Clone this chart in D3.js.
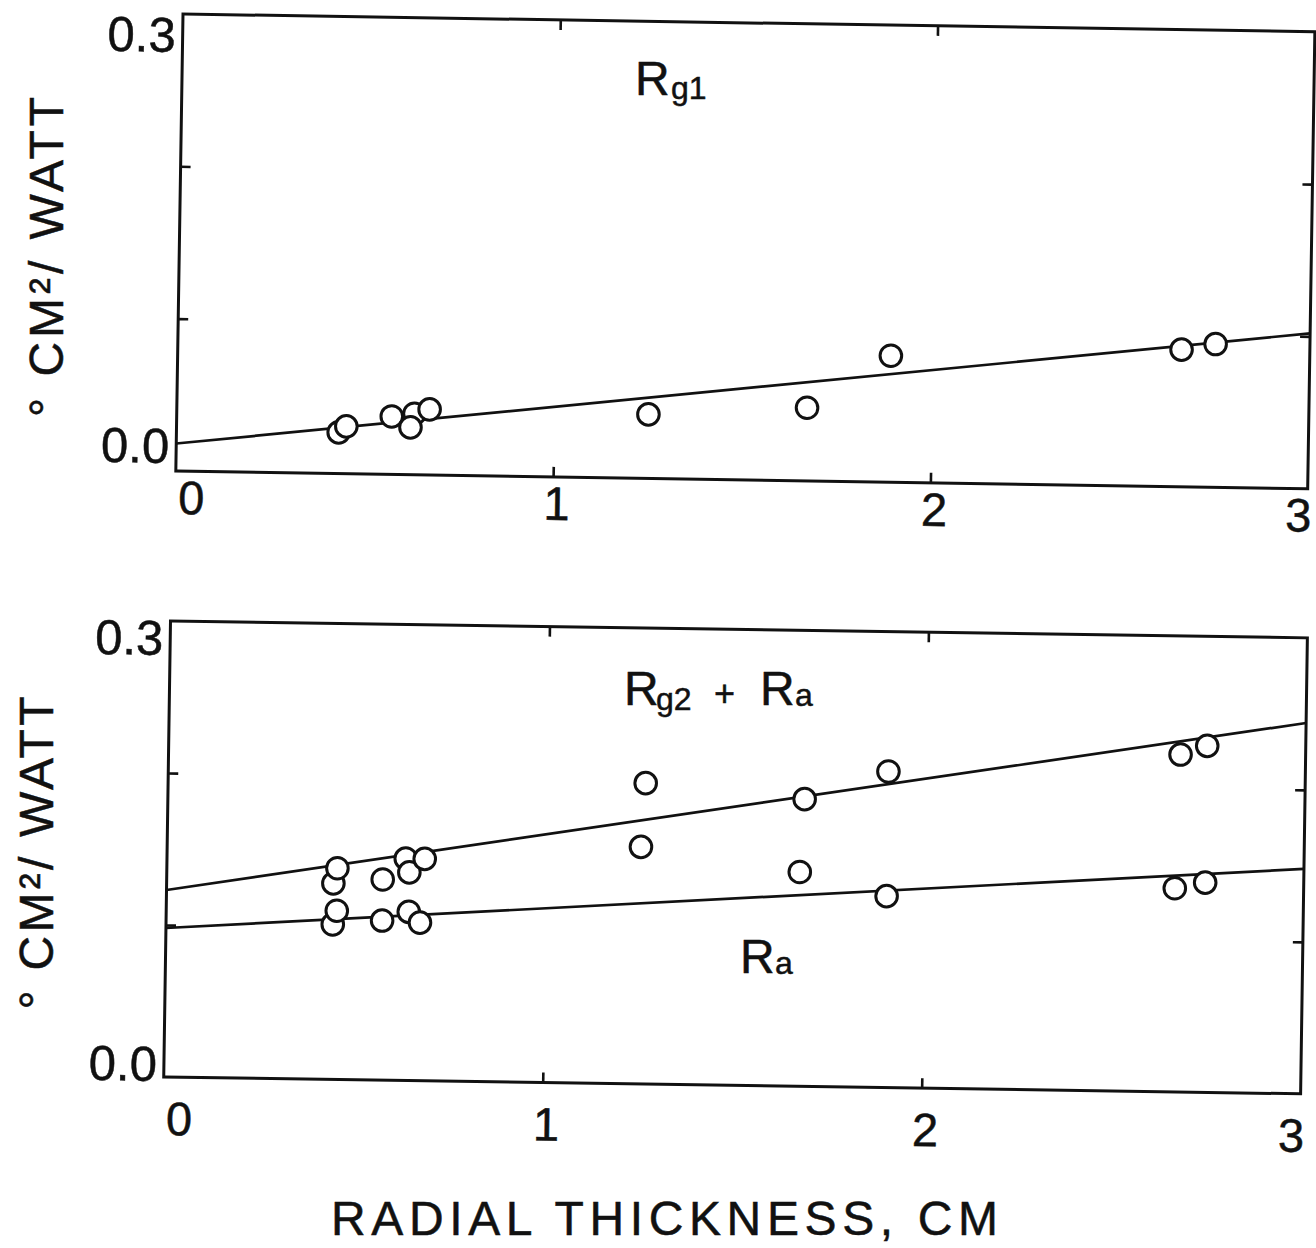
<!DOCTYPE html>
<html>
<head>
<meta charset="utf-8">
<script src="https://cdn.jsdelivr.net/npm/d3@7"></script>
<style>
  html, body { margin: 0; padding: 0; background: #fff; }
  svg { display: block; }
  text { font-family: "Liberation Sans", Arial, sans-serif; fill: #111; stroke: #111; stroke-width: 0.5px; }
</style>
</head>
<body>
<svg id="chart" width="1316" height="1248"></svg>
<script>
// Radial thickness (cm) and measured thermal resistances (°C·cm²/W)
const rg1Thickness = [0.43, 0.45, 0.57, 0.63, 0.62, 0.67, 1.25, 1.67, 1.89, 2.66, 2.75];
const rg1Values    = [0.027, 0.031, 0.038, 0.040, 0.031, 0.043, 0.042, 0.048, 0.083, 0.090, 0.094];

const rg2raThickness = [0.44, 0.45, 0.57, 0.63, 0.64, 0.68, 1.26, 1.68, 1.90, 2.67, 2.74];
const rg2raValues    = [0.129, 0.139, 0.132, 0.146, 0.137, 0.146, 0.198, 0.189, 0.208, 0.222, 0.228];

const raThickness = [0.44, 0.45, 0.57, 0.64, 0.67, 1.25, 1.67, 1.90, 2.66, 2.74];
const raValues    = [0.102, 0.111, 0.105, 0.111, 0.104, 0.156, 0.141, 0.126, 0.134, 0.138];

// Straight-line fits, evaluated at the ends of the thickness range
const fitEnds  = [0, 3];
const rg1Fit   = [0.018, 0.102];
const rg2raFit = [0.123, 0.244];
const raFit    = [0.098, 0.148];

// Axes
const xDomain = [0, 3];
const yDomain = [0, 0.3];
const xTicks = [0, 1, 2, 3];
const xTickLabels = ["0", "1", "2", "3"];
const xMinorTicks = [1, 2];
const yMinorTicks = [0.1, 0.2];
const yTickValues = [0, 0.3];
const yTickLabels = ["0.0", "0.3"];

const svg = d3.select("#chart");

// Each panel sits on the sheet with a slight clockwise tilt
const panels = [
  { x0: 183, y0: 14, angle: 0.9, w: 1132, h: 457, xLabGap: 43, yHi: 38, yLo: -8,
    series: [{ xs: rg1Thickness, ys: rg1Values }],
    fits: [rg1Fit] },
  { x0: 170.5, y0: 621, angle: 0.85, w: 1137, h: 456, xLabGap: 58, yHi: 34, yLo: 4,
    series: [{ xs: raThickness, ys: raValues }, { xs: rg2raThickness, ys: rg2raValues }],
    fits: [rg2raFit, raFit] }
];

// horizontal nudge of each x tick label from its tick
const xLabelShift = d => d === 0 ? 16 : (d === 3 ? -9 : 4);

panels.forEach(p => {
  const g = svg.append("g")
    .attr("transform", `translate(${p.x0},${p.y0}) rotate(${p.angle})`);

  const x = d3.scaleLinear().domain(xDomain).range([0, p.w]);
  const y = d3.scaleLinear().domain(yDomain).range([p.h, 0]);

  // frame
  g.append("rect")
    .attr("x", 0).attr("y", 0).attr("width", p.w).attr("height", p.h)
    .attr("fill", "none").attr("stroke", "#111").attr("stroke-width", 3);

  // inward tick marks on all four sides
  const tickStyle = sel => {
    sel.select(".domain").remove();
    sel.selectAll(".tick line").attr("stroke", "#111").attr("stroke-width", 2.6);
    sel.selectAll(".tick text").remove();
  };
  g.append("g").call(d3.axisLeft(y).tickValues(yMinorTicks).tickSize(-10)).call(tickStyle);
  g.append("g").attr("transform", `translate(${p.w},0)`)
    .call(d3.axisRight(y).tickValues(yMinorTicks).tickSize(-10)).call(tickStyle);
  g.append("g").call(d3.axisTop(x).tickValues(xMinorTicks).tickSize(-10)).call(tickStyle);
  g.append("g").attr("transform", `translate(0,${p.h})`)
    .call(d3.axisBottom(x).tickValues(xMinorTicks).tickSize(-10)).call(tickStyle);

  // tick labels
  g.selectAll("text.xlab").data(xTicks).enter().append("text")
    .attr("class", "xlab")
    .attr("x", d => x(d) + xLabelShift(d))
    .attr("y", p.h + p.xLabGap)
    .attr("text-anchor", "middle")
    .attr("font-size", 47)
    .text((d, i) => xTickLabels[i]);

  g.selectAll("text.ylab").data(yTickValues).enter().append("text")
    .attr("class", "ylab")
    .attr("x", -7)
    .attr("y", d => d === 0 ? y(d) + p.yLo : y(d) + p.yHi)
    .attr("text-anchor", "end")
    .attr("font-size", 49)
    .text((d, i) => yTickLabels[i]);

  // fitted lines
  const line = d3.line().x(d => x(d[0])).y(d => y(d[1]));
  p.fits.forEach(f => {
    g.append("path")
      .datum(fitEnds.map((e, i) => [e, f[i]]))
      .attr("d", line)
      .attr("fill", "none")
      .attr("stroke", "#111")
      .attr("stroke-width", 2.7);
  });

  // open-circle data points
  p.series.forEach(s => {
    g.selectAll(null).data(s.xs.map((v, i) => [v, s.ys[i]])).enter().append("circle")
      .attr("cx", d => x(d[0]))
      .attr("cy", d => y(d[1]))
      .attr("r", 10.8)
      .attr("fill", "#fff")
      .attr("stroke", "#111")
      .attr("stroke-width", 3);
  });
});

// Curve labels
function label(parts) {
  const t = svg.append("text");
  parts.forEach(pt => {
    t.append("tspan").attr("x", pt.x).attr("y", pt.y)
      .attr("font-size", pt.size).text(pt.t);
  });
}
label([
  { t: "R", x: 635, y: 95, size: 48 },
  { t: "g1", x: 671, y: 99, size: 32 }
]);
label([
  { t: "R", x: 624, y: 705, size: 48 },
  { t: "g2", x: 656, y: 710, size: 32 },
  { t: "+", x: 714, y: 706, size: 36 },
  { t: "R", x: 760, y: 705, size: 48 },
  { t: "a", x: 795, y: 706, size: 32 }
]);
label([
  { t: "R", x: 740, y: 973, size: 48 },
  { t: "a", x: 775, y: 974, size: 32 }
]);

// Axis titles
const yTitle = "° CM²/ WATT";
[{ cx: 63, cy: 257, len: 320 }, { cx: 53, cy: 853, len: 313 }].forEach(a => {
  svg.append("text")
    .attr("transform", `translate(${a.cx},${a.cy}) rotate(-90)`)
    .attr("text-anchor", "middle")
    .attr("font-size", 48)
    .attr("textLength", a.len)
    .attr("lengthAdjust", "spacing")
    .text(yTitle);
});

svg.append("text")
  .attr("x", 331).attr("y", 1235)
  .attr("font-size", 48)
  .attr("textLength", 667)
  .attr("lengthAdjust", "spacing")
  .text("RADIAL THICKNESS, CM");
</script>
</body>
</html>
